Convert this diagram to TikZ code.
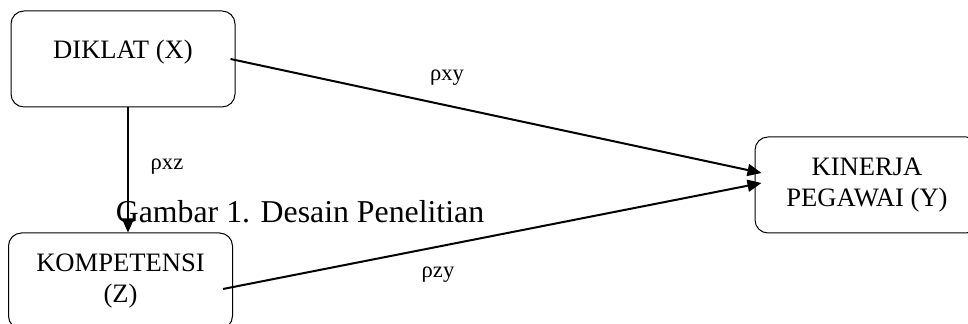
\documentclass[tikz,border=0pt]{standalone}
\usepackage{fontspec}
\setmainfont{Liberation Serif}
\usetikzlibrary{arrows.meta}

\begin{document}
\begin{tikzpicture}[x=0.5pt, y=-0.5pt,
    varbox/.style={draw, line width=0.5pt, rounded corners=6.5pt, minimum width=112pt, minimum height=48pt, align=center, font=\fontsize{13.3}{15.5}\selectfont},
    path/.style={line width=1pt, -{Triangle[length=7pt, width=6pt]}},
    coef/.style={font=\fontsize{11.3}{13}\selectfont}]
  \useasboundingbox (0, 0) rectangle (968, 324);
  % variabel
  \node[varbox, text depth=10pt] (diklat) at (123, 59) {DIKLAT (X)};
  \node[varbox] (komp) at (120.5, 281) {KOMPETENSI\\(Z)};
  \node[varbox] (kinerja) at (867, 185) {KINERJA\\PEGAWAI (Y)};
  % jalur
  \draw[path] ([xshift=-2.5pt]diklat.east) -- ([xshift=3.5pt, yshift=6pt]kinerja.west);
  \draw[path] ([xshift=-5pt, yshift=-4pt]komp.east) -- ([xshift=3.5pt, yshift=1pt]kinerja.west);
  \draw[path] ([xshift=2.5pt]diklat.south) -- ([xshift=2.5pt]diklat.south |- komp.north);
  % koefisien
  \node[coef] (rxy) at (447, 78) {ρxy};
  \node[coef] (rxz) at (167, 167) {ρxz};
  \node[coef] (rzy) at (438, 275) {ρzy};
  \node[anchor=base, font=\fontsize{15.9}{18}\selectfont] (judul) at (300, 223) {Gambar 1. Desain Penelitian};
\end{tikzpicture}
\end{document}
